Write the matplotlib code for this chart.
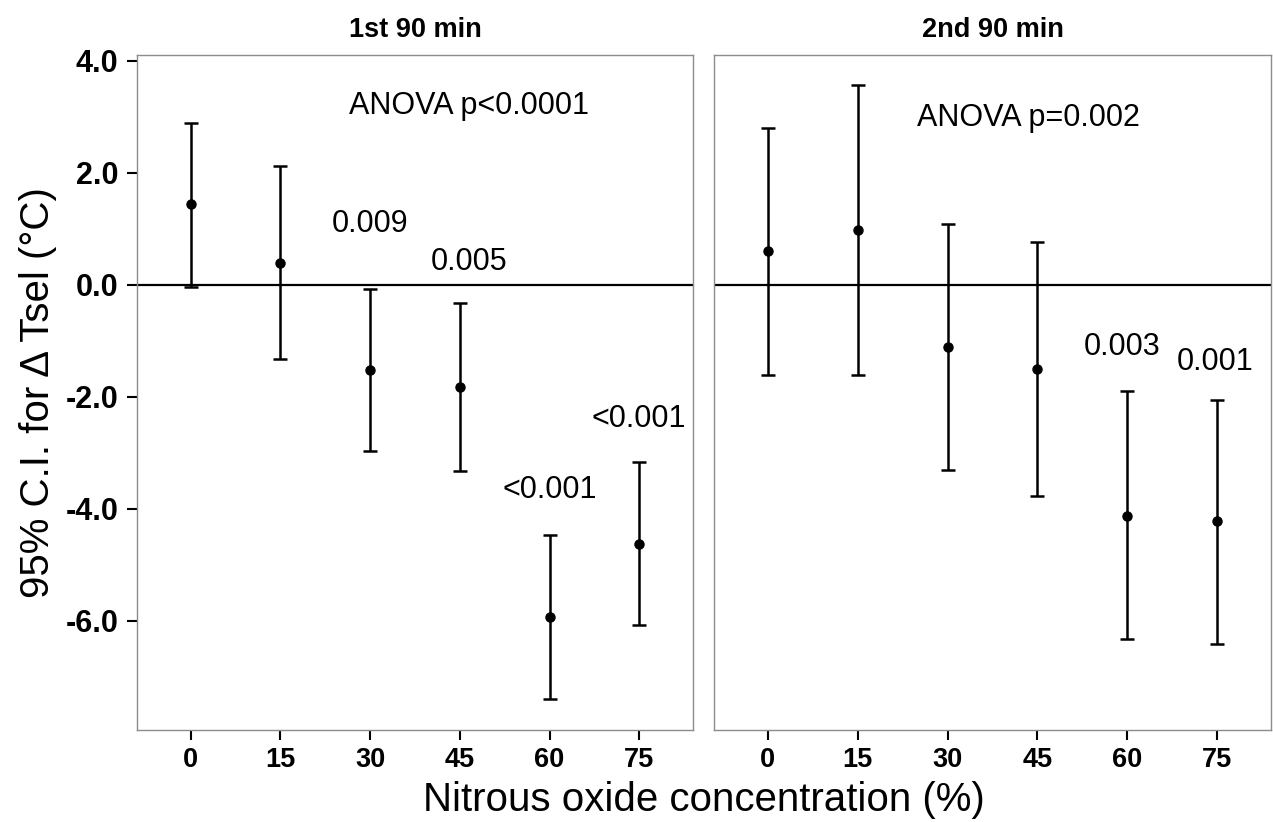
import numpy as np
import matplotlib
matplotlib.use('Agg')
import matplotlib.pyplot as plt

plt.rcParams['font.family'] = ['Liberation Sans', 'DejaVu Sans']

conc = ['0', '15', '30', '45', '60', '75']
panels = ['1st 90 min', '2nd 90 min']

# mean and 95% CI per concentration, first then second 90 min
mean1 = [1.45, 0.40, -1.52, -1.83, -5.93, -4.63]
low1 = [-0.03, -1.32, -2.97, -3.33, -7.40, -6.07]
high1 = [2.90, 2.12, -0.07, -0.33, -4.47, -3.17]

mean2 = [0.60, 0.98, -1.10, -1.50, -4.12, -4.22]
low2 = [-1.60, -1.60, -3.30, -3.77, -6.32, -6.42]
high2 = [2.80, 3.57, 1.08, 0.77, -1.90, -2.05]

anova = ['ANOVA p<0.0001', 'ANOVA p=0.002']
anova_xy = [(4.1, 3.2), (3.9, 2.98)]

# post-hoc p values: (category index, y, text)
pvals1 = [(3, 1.09, '0.009'), (4.1, 0.41, '0.005'), (5, -3.66, '<0.001'), (6, -2.4, '<0.001')]
pvals2 = [(4.94, -1.1, '0.003'), (5.98, -1.37, '0.001')]

fig = plt.figure(figsize=(12.73, 8.22), dpi=100)
ax1 = fig.add_axes([0.1076, 0.1119, 0.4368, 0.8212])
ax2 = fig.add_axes([0.5609, 0.1119, 0.4375, 0.8212])

x = np.arange(1, 7)
data = [(mean1, low1, high1, pvals1), (mean2, low2, high2, pvals2)]

for i, ax in enumerate([ax1, ax2]):
    m, lo, hi, pv = data[i]
    m = np.array(m); lo = np.array(lo); hi = np.array(hi)
    ax.axhline(0, color='black', lw=1.6, zorder=1)
    ax.errorbar(x, m, yerr=[m - lo, hi - m], fmt='o', color='black', ms=6.5,
                elinewidth=1.8, capsize=5, capthick=1.8, zorder=3)
    ax.set_xlim(0.4, 6.6)
    ax.set_ylim(-7.95, 4.107)
    ax.set_xticks(x)
    ax.set_xticklabels(conc, fontsize=19.5, fontweight='bold')
    ax.set_yticks([4, 2, 0, -2, -4, -6])
    for s in ax.spines.values():
        s.set_color('#8c8c8c')
        s.set_linewidth(1.0)
    ax.tick_params(length=7.5, width=1.5, color='black', pad=5)
    ax.set_title(panels[i], fontsize=19.5, fontweight='bold', pad=13)
    ax.text(anova_xy[i][0], anova_xy[i][1], anova[i], fontsize=22,
            ha='center', va='center')
    for px, py, t in pv:
        ax.text(px, py, t, fontsize=22, ha='center', va='center')

ax1.set_yticklabels(['4.0', '2.0', '0.0', '-2.0', '-4.0', '-6.0'],
                    fontsize=22, fontweight='bold')
ax1.tick_params(axis='y', pad=6)
ax1.set_ylabel('95% C.I. for \u0394 Tsel (\u00b0C)', fontsize=29, labelpad=6)
ax2.tick_params(axis='y', left=False, labelleft=False)

fig.text(0.553, 0.027, 'Nitrous oxide concentration (%)', fontsize=29,
         ha='center', va='center')

fig.savefig('out.png', dpi=100)
